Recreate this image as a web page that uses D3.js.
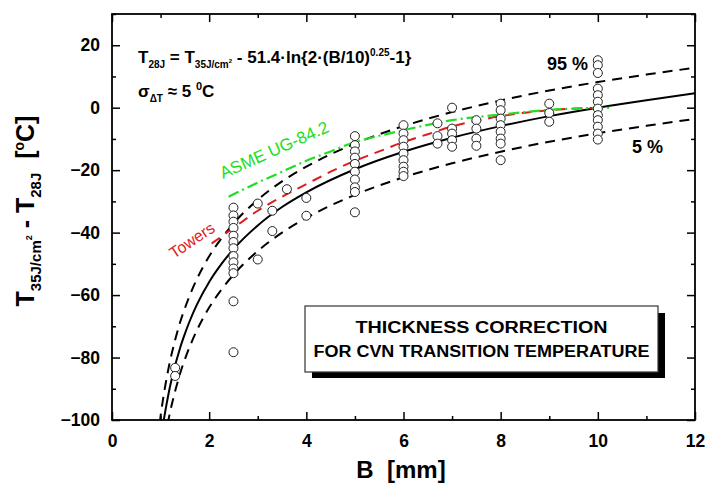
<!DOCTYPE html>
<html><head><meta charset="utf-8">
<script src="https://cdnjs.cloudflare.com/ajax/libs/d3/7.8.5/d3.min.js"></script>
<style>
body{margin:0;background:#fff;}
text{font-family:"Liberation Sans",Arial,sans-serif;}
</style></head>
<body><svg id="c" width="707" height="484"></svg>
<script>
// ---- data ----
const xTicks = [0,2,4,6,8,10,12];
const yTicks = [-100,-80,-60,-40,-20,0,20];
const xMinor = [1,3,5,7,9,11];
const yMinor = [-90,-70,-50,-30,-10,10,30];

const curveB  = [0.98,1.0,1.05,1.1,1.15,1.2,1.25,1.3,1.35,1.4,1.5,1.6,1.75,2,2.25,2.5,3,3.5,4,5,6,7,8,9,10,11,12];
const meanT   = [-109.4,-107.0,-101.6,-96.9,-92.7,-88.9,-85.6,-82.5,-79.7,-77.0,-72.4,-68.3,-63.0,-55.8,-50.1,-45.3,-37.7,-31.8,-27.1,-19.7,-14.1,-9.6,-5.9,-2.7,0,2.4,4.6];
const upper95 = [-101.2,-98.8,-93.4,-88.7,-84.5,-80.7,-77.4,-74.3,-71.5,-68.8,-64.2,-60.1,-54.8,-47.6,-41.9,-37.1,-29.5,-23.6,-18.9,-11.5,-5.9,-1.4,2.3,5.5,8.2,10.6,12.8];
const lower5  = [-117.6,-115.2,-109.8,-105.1,-100.9,-97.1,-93.8,-90.7,-87.9,-85.2,-80.6,-76.5,-71.2,-64.0,-58.3,-53.5,-45.9,-40.0,-35.3,-27.9,-22.3,-17.8,-14.1,-10.9,-8.2,-5.8,-3.6];

const towersB = [2.05,2.5,3,3.5,4,4.5,5,5.5,6,6.5,7,7.5,8,8.5,9,9.5,10.1];
const towersT = [-43.5,-38.5,-33,-28.5,-24.5,-20.5,-17,-14,-11,-8.5,-6,-4.2,-2.7,-1.6,-0.8,-0.3,0];

const asmeB = [2.4,3,3.5,4,4.5,5,5.5,6,6.5,7,7.5,8,8.5,9,9.5,10.3];
const asmeT = [-28.5,-24,-20.5,-17,-14,-11,-9,-7.2,-5.5,-4,-3,-2.2,-1.4,-0.7,-0.3,0];

const pointB = [1.3,1.3,
 2.5,2.5,2.5,2.5,2.5,2.5,2.5,2.5,2.5,2.5,2.5,2.5,2.5,
 3.0,3.0,3.3,3.3,3.6,4.0,4.0,
 5,5,5,5,5,5,5,5,5,5,
 6,6,6,6,6,6,6,6,6,
 6.7,6.7,6.7,
 7,7,7,7,7,
 7.5,7.5,7.5,7.5,
 8,8,8,8,8,8,8,8,
 9,9,9,
 10,10,10,10,10,10,10,10,10,10,10,10];
const pointT = [-83.3,-85.9,
 -32,-34.5,-36.5,-38.5,-41,-43,-45,-47.5,-49.5,-51.5,-53,-62,-78.3,
 -30.7,-48.6,-33,-39.5,-26.1,-28.9,-34.6,
 -9.1,-12,-14,-16,-18,-20.5,-23,-25.5,-27,-33.5,
 -5.6,-8.3,-10.4,-12.5,-14.7,-16.8,-18.9,-20.5,-21.9,
 -5,-9.1,-11.5,
 0,-6.7,-8.3,-10.4,-12.5,
 -4,-6.7,-9.9,-12.2,
 1.3,-0.8,-3.5,-5.6,-7.7,-9.9,-11.5,-16.8,
 1.3,-1.7,-4.5,
 15.2,13.6,11.1,6.1,4,1.9,-0.3,-2.4,-4,-6.1,-8.3,-10.2];

// ---- layout ----
const svg = d3.select("#c");
const L=112, R=695, T=14, B=420;
const x = d3.scaleLinear().domain([0,12]).range([L,R]);
const y = d3.scaleLinear().domain([-100,30]).range([B,T]);

svg.append("defs").append("clipPath").attr("id","clip")
  .append("rect").attr("x",L).attr("y",T).attr("width",R-L).attr("height",B-T);

function styleAxis(g){ g.select(".domain").remove(); g.selectAll("line").attr("stroke","#000").attr("stroke-width",1.5); }
svg.append("g").attr("transform",`translate(0,${B})`)
  .call(d3.axisBottom(x).tickValues(xTicks).tickSize(-8).tickPadding(15).tickFormat(d3.format("d")))
  .call(styleAxis)
  .selectAll("text").attr("font-size",17.5).attr("font-weight","bold").attr("fill","#000");
svg.append("g").attr("transform",`translate(0,${B})`)
  .call(d3.axisBottom(x).tickValues(xMinor).tickSize(-4).tickFormat(""))
  .call(styleAxis);
svg.append("g").attr("transform",`translate(0,${T})`)
  .call(d3.axisTop(x).tickValues(xTicks).tickSize(-8).tickFormat(""))
  .call(styleAxis);
svg.append("g").attr("transform",`translate(0,${T})`)
  .call(d3.axisTop(x).tickValues(xMinor).tickSize(-4).tickFormat(""))
  .call(styleAxis);
svg.append("g").attr("transform",`translate(${L},0)`)
  .call(d3.axisLeft(y).tickValues(yTicks).tickSize(-8).tickPadding(12).tickFormat(d3.format("d")))
  .call(styleAxis)
  .selectAll("text").attr("font-size",17.5).attr("font-weight","bold").attr("fill","#000");
svg.append("g").attr("transform",`translate(${L},0)`)
  .call(d3.axisLeft(y).tickValues(yMinor).tickSize(-4).tickFormat(""))
  .call(styleAxis);
svg.append("g").attr("transform",`translate(${R},0)`)
  .call(d3.axisRight(y).tickValues(yTicks).tickSize(-8).tickFormat(""))
  .call(styleAxis);
svg.append("g").attr("transform",`translate(${R},0)`)
  .call(d3.axisRight(y).tickValues(yMinor).tickSize(-4).tickFormat(""))
  .call(styleAxis);

// frame
svg.append("rect").attr("x",L).attr("y",T).attr("width",R-L).attr("height",B-T)
  .attr("fill","none").attr("stroke","#000").attr("stroke-width",1.8);

// curves
const line = d3.line().x(d=>x(d[0])).y(d=>y(d[1])).curve(d3.curveMonotoneX);
const plot = svg.append("g").attr("clip-path","url(#clip)");
plot.append("path").datum(curveB.map((b,i)=>[b,upper95[i]])).attr("d",line)
  .attr("fill","none").attr("stroke","#000").attr("stroke-width",2).attr("stroke-dasharray","10,7");
plot.append("path").datum(curveB.map((b,i)=>[b,lower5[i]])).attr("d",line)
  .attr("fill","none").attr("stroke","#000").attr("stroke-width",2).attr("stroke-dasharray","10,7");
plot.append("path").datum(curveB.map((b,i)=>[b,meanT[i]])).attr("d",line)
  .attr("fill","none").attr("stroke","#000").attr("stroke-width",2);
plot.append("path").datum(towersB.map((b,i)=>[b,towersT[i]])).attr("d",line)
  .attr("fill","none").attr("stroke","#dd1c1c").attr("stroke-width",2).attr("stroke-dasharray","10,7");
plot.append("path").datum(asmeB.map((b,i)=>[b,asmeT[i]])).attr("d",line)
  .attr("fill","none").attr("stroke","#22dd22").attr("stroke-width",2.2).attr("stroke-dasharray","11,4,2,4");

// points
plot.selectAll("circle.pt").data(pointB.map((b,i)=>[b,pointT[i]])).enter().append("circle")
  .attr("cx",d=>x(d[0])).attr("cy",d=>y(d[1])).attr("r",4.5)
  .attr("fill","#fff").attr("stroke","#222").attr("stroke-width",1);

// curve labels
svg.append("text").attr("transform","translate(223,179) rotate(-24)")
  .attr("font-size",17).attr("fill","#22dd22").text("ASME UG-84.2");
svg.append("text").attr("transform","translate(174,259) rotate(-34)")
  .attr("font-size",16).attr("fill","#dd1c1c").text("Towers");

// formula
const f = svg.append("text").attr("x",138).attr("y",63).attr("font-size",17).attr("font-weight","bold");
f.append("tspan").text("T");
f.append("tspan").attr("font-size",10).attr("dy",5).text("28J");
f.append("tspan").attr("font-size",17).attr("dy",-5).text(" = T");
f.append("tspan").attr("font-size",10).attr("dy",5).text("35J/cm");
f.append("tspan").attr("font-size",6).attr("dy",-5).text("2");
f.append("tspan").attr("font-size",17).attr("dy",0).text(" - 51.4\u00b7ln{2\u00b7(B/10)");
f.append("tspan").attr("font-size",10).attr("dy",-7).text("0.25");
f.append("tspan").attr("font-size",17).attr("dy",7).text("-1}");

const s = svg.append("text").attr("x",138).attr("y",97).attr("font-size",17).attr("font-weight","bold");
s.append("tspan").text("\u03c3");
s.append("tspan").attr("font-size",10).attr("dy",5).text("\u0394T");
s.append("tspan").attr("font-size",17).attr("dy",-5).text(" \u2248 5 ");
s.append("tspan").attr("font-size",11).attr("dy",-7).text("0");
s.append("tspan").attr("font-size",17).attr("dy",7).text("C");

svg.append("text").attr("x",547).attr("y",70).attr("font-size",18).attr("font-weight","bold").text("95 %");
svg.append("text").attr("x",632).attr("y",153).attr("font-size",18).attr("font-weight","bold").text("5 %");

// box
svg.append("rect").attr("x",312).attr("y",313).attr("width",353).attr("height",65).attr("fill","#000");
svg.append("rect").attr("x",305).attr("y",306).attr("width",353).attr("height",66)
  .attr("fill","#fff").attr("stroke","#333").attr("stroke-width",1.2);
svg.append("text").attr("x",481.5).attr("y",333).attr("text-anchor","middle")
  .attr("font-size",16).attr("font-weight","bold")
  .attr("textLength",252).attr("lengthAdjust","spacingAndGlyphs").text("THICKNESS CORRECTION");
svg.append("text").attr("x",481.5).attr("y",357).attr("text-anchor","middle")
  .attr("font-size",16).attr("font-weight","bold")
  .attr("textLength",336).attr("lengthAdjust","spacingAndGlyphs").text("FOR CVN TRANSITION TEMPERATURE");

// axis titles
svg.append("text").attr("x",401).attr("y",478).attr("text-anchor","middle")
  .attr("font-size",24).attr("font-weight","bold").text("B\u00a0\u00a0[mm]");

const yt = svg.append("text").attr("transform","translate(34,211) rotate(-90)")
  .attr("text-anchor","middle").attr("font-size",25).attr("font-weight","bold");
yt.append("tspan").text("T");
yt.append("tspan").attr("font-size",15).attr("dy",7).text("35J/cm");
yt.append("tspan").attr("font-size",9).attr("dy",-9).text("2");
yt.append("tspan").attr("font-size",25).attr("dy",2).text(" - T");
yt.append("tspan").attr("font-size",15).attr("dy",7).text("28J");
yt.append("tspan").attr("font-size",25).attr("dy",-7).text("\u00a0\u00a0[");
yt.append("tspan").attr("font-size",14).attr("dy",-10).text("o");
yt.append("tspan").attr("font-size",25).attr("dy",10).text("C]");
</script></body></html>
